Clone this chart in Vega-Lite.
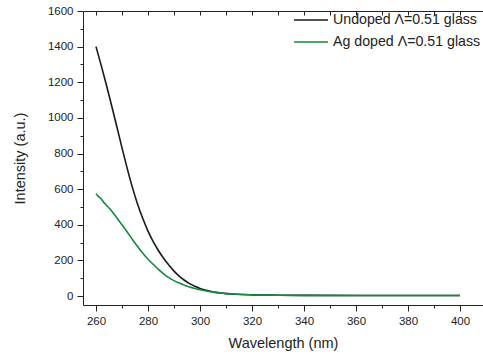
{
  "$schema": "https://vega.github.io/schema/vega-lite/v6.json",
  "width": 400,
  "height": 294,
  "autosize": {"type": "none"},
  "padding": {"left": 83, "top": 11, "right": 0, "bottom": 51},
  "background": "white",
  "config": {"view": {"stroke": null}, "font": "Liberation Sans"},
  "data": {"values": [
    {"w": 260, "v": 1400, "s": "Undoped Λ=0.51 glass"},
    {"w": 262, "v": 1295, "s": "Undoped Λ=0.51 glass"},
    {"w": 264, "v": 1185, "s": "Undoped Λ=0.51 glass"},
    {"w": 266, "v": 1070, "s": "Undoped Λ=0.51 glass"},
    {"w": 268, "v": 952, "s": "Undoped Λ=0.51 glass"},
    {"w": 270, "v": 832, "s": "Undoped Λ=0.51 glass"},
    {"w": 272, "v": 717, "s": "Undoped Λ=0.51 glass"},
    {"w": 274, "v": 610, "s": "Undoped Λ=0.51 glass"},
    {"w": 276, "v": 515, "s": "Undoped Λ=0.51 glass"},
    {"w": 278, "v": 435, "s": "Undoped Λ=0.51 glass"},
    {"w": 280, "v": 365, "s": "Undoped Λ=0.51 glass"},
    {"w": 282, "v": 306, "s": "Undoped Λ=0.51 glass"},
    {"w": 284, "v": 256, "s": "Undoped Λ=0.51 glass"},
    {"w": 286, "v": 212, "s": "Undoped Λ=0.51 glass"},
    {"w": 288, "v": 174, "s": "Undoped Λ=0.51 glass"},
    {"w": 290, "v": 140, "s": "Undoped Λ=0.51 glass"},
    {"w": 292, "v": 112, "s": "Undoped Λ=0.51 glass"},
    {"w": 294, "v": 89, "s": "Undoped Λ=0.51 glass"},
    {"w": 296, "v": 70, "s": "Undoped Λ=0.51 glass"},
    {"w": 298, "v": 55, "s": "Undoped Λ=0.51 glass"},
    {"w": 300, "v": 43, "s": "Undoped Λ=0.51 glass"},
    {"w": 302, "v": 34, "s": "Undoped Λ=0.51 glass"},
    {"w": 304, "v": 27, "s": "Undoped Λ=0.51 glass"},
    {"w": 306, "v": 21, "s": "Undoped Λ=0.51 glass"},
    {"w": 308, "v": 17, "s": "Undoped Λ=0.51 glass"},
    {"w": 310, "v": 14, "s": "Undoped Λ=0.51 glass"},
    {"w": 314, "v": 10, "s": "Undoped Λ=0.51 glass"},
    {"w": 320, "v": 7, "s": "Undoped Λ=0.51 glass"},
    {"w": 330, "v": 5, "s": "Undoped Λ=0.51 glass"},
    {"w": 340, "v": 4, "s": "Undoped Λ=0.51 glass"},
    {"w": 360, "v": 3, "s": "Undoped Λ=0.51 glass"},
    {"w": 380, "v": 3, "s": "Undoped Λ=0.51 glass"},
    {"w": 400, "v": 3, "s": "Undoped Λ=0.51 glass"},
    {"w": 260, "v": 575, "s": "Ag doped Λ=0.51 glass"},
    {"w": 261, "v": 558, "s": "Ag doped Λ=0.51 glass"},
    {"w": 262, "v": 545, "s": "Ag doped Λ=0.51 glass"},
    {"w": 263, "v": 526, "s": "Ag doped Λ=0.51 glass"},
    {"w": 264, "v": 510, "s": "Ag doped Λ=0.51 glass"},
    {"w": 266, "v": 478, "s": "Ag doped Λ=0.51 glass"},
    {"w": 268, "v": 440, "s": "Ag doped Λ=0.51 glass"},
    {"w": 270, "v": 400, "s": "Ag doped Λ=0.51 glass"},
    {"w": 272, "v": 360, "s": "Ag doped Λ=0.51 glass"},
    {"w": 274, "v": 318, "s": "Ag doped Λ=0.51 glass"},
    {"w": 276, "v": 278, "s": "Ag doped Λ=0.51 glass"},
    {"w": 278, "v": 240, "s": "Ag doped Λ=0.51 glass"},
    {"w": 280, "v": 207, "s": "Ag doped Λ=0.51 glass"},
    {"w": 282, "v": 178, "s": "Ag doped Λ=0.51 glass"},
    {"w": 284, "v": 150, "s": "Ag doped Λ=0.51 glass"},
    {"w": 286, "v": 125, "s": "Ag doped Λ=0.51 glass"},
    {"w": 288, "v": 104, "s": "Ag doped Λ=0.51 glass"},
    {"w": 290, "v": 87, "s": "Ag doped Λ=0.51 glass"},
    {"w": 292, "v": 73, "s": "Ag doped Λ=0.51 glass"},
    {"w": 294, "v": 61, "s": "Ag doped Λ=0.51 glass"},
    {"w": 296, "v": 51, "s": "Ag doped Λ=0.51 glass"},
    {"w": 298, "v": 43, "s": "Ag doped Λ=0.51 glass"},
    {"w": 300, "v": 36, "s": "Ag doped Λ=0.51 glass"},
    {"w": 302, "v": 30, "s": "Ag doped Λ=0.51 glass"},
    {"w": 304, "v": 25, "s": "Ag doped Λ=0.51 glass"},
    {"w": 306, "v": 21, "s": "Ag doped Λ=0.51 glass"},
    {"w": 308, "v": 17, "s": "Ag doped Λ=0.51 glass"},
    {"w": 310, "v": 14, "s": "Ag doped Λ=0.51 glass"},
    {"w": 314, "v": 10, "s": "Ag doped Λ=0.51 glass"},
    {"w": 320, "v": 7, "s": "Ag doped Λ=0.51 glass"},
    {"w": 330, "v": 5, "s": "Ag doped Λ=0.51 glass"},
    {"w": 340, "v": 4, "s": "Ag doped Λ=0.51 glass"},
    {"w": 360, "v": 3, "s": "Ag doped Λ=0.51 glass"},
    {"w": 380, "v": 3, "s": "Ag doped Λ=0.51 glass"},
    {"w": 400, "v": 3, "s": "Ag doped Λ=0.51 glass"}
  ]},
  "layer": [
    {
      "mark": {"type": "line", "strokeWidth": 1.6, "interpolate": "monotone"},
      "encoding": {
        "x": {
          "field": "w", "type": "quantitative",
          "scale": {"domain": [255, 408.85], "nice": false, "zero": false},
          "axis": {
            "orient": "bottom",
            "title": "Wavelength (nm)",
            "values": [260, 270, 280, 290, 300, 310, 320, 330, 340, 350, 360, 370, 380, 390, 400],
            "labelExpr": "datum.value % 20 === 0 ? datum.label : ''",
            "tickSize": {"expr": "datum.value % 20 === 0 ? 6 : 3"},
            "grid": false,
            "domainColor": "#222", "tickColor": "#222", "domainWidth": 1, "tickWidth": 1,
            "labelColor": "#222", "labelFontSize": 11.5, "labelFont": "Liberation Sans",
            "labelPadding": 4, "labelFlush": false, "labelOverlap": false,
            "titleColor": "#222", "titleFontSize": 14.5, "titleFontWeight": "normal",
            "titleFont": "Liberation Sans", "titlePadding": 10
          }
        },
        "y": {
          "field": "v", "type": "quantitative",
          "scale": {"domain": [-50, 1600], "nice": false, "zero": false},
          "axis": {
            "title": "Intensity (a.u.)",
            "values": [0, 100, 200, 300, 400, 500, 600, 700, 800, 900, 1000, 1100, 1200, 1300, 1400, 1500, 1600],
            "labelExpr": "datum.value % 200 === 0 ? datum.label : ''",
            "tickSize": {"expr": "datum.value % 200 === 0 ? 6 : 3"},
            "format": "d",
            "grid": false,
            "domainColor": "#222", "tickColor": "#222", "domainWidth": 1, "tickWidth": 1,
            "labelColor": "#222", "labelFontSize": 11.5, "labelFont": "Liberation Sans",
            "labelPadding": 4, "labelFlush": false, "labelOverlap": false,
            "titleColor": "#222", "titleFontSize": 14.5, "titleFontWeight": "normal",
            "titleFont": "Liberation Sans", "titlePadding": 20
          }
        },
        "color": {
          "field": "s", "type": "nominal",
          "scale": {"domain": ["Undoped Λ=0.51 glass", "Ag doped Λ=0.51 glass"], "range": ["#1a1a1a", "#138a3e"]},
          "legend": {
            "orient": "none", "legendX": 210, "legendY": -1,
            "title": null, "symbolType": "stroke", "symbolSize": 1156,
            "symbolStrokeWidth": 1.6, "labelFontSize": 14.2, "labelFont": "Liberation Sans",
            "labelColor": "#222", "labelOffset": 4, "clipHeight": 20, "rowPadding": 2,
            "padding": 0, "labelLimit": 300
          }
        }
      }
    },
    {
      "data": {"values": [{"w": 260}]},
      "mark": {"type": "rule", "strokeOpacity": 0},
      "encoding": {
        "x": {
          "field": "w", "type": "quantitative",
          "scale": {"domain": [255, 408.85], "nice": false, "zero": false},
          "axis": {
            "orient": "top", "title": null, "labels": false,
            "values": [260, 270, 280, 290, 300, 310, 320, 330, 340, 350, 360, 370, 380, 390, 400],
            "tickSize": -4, "grid": false,
            "domainColor": "#222", "tickColor": "#222", "domainWidth": 1, "tickWidth": 1
          }
        }
      }
    }
  ],
  "resolve": {"axis": {"x": "independent"}}
}
